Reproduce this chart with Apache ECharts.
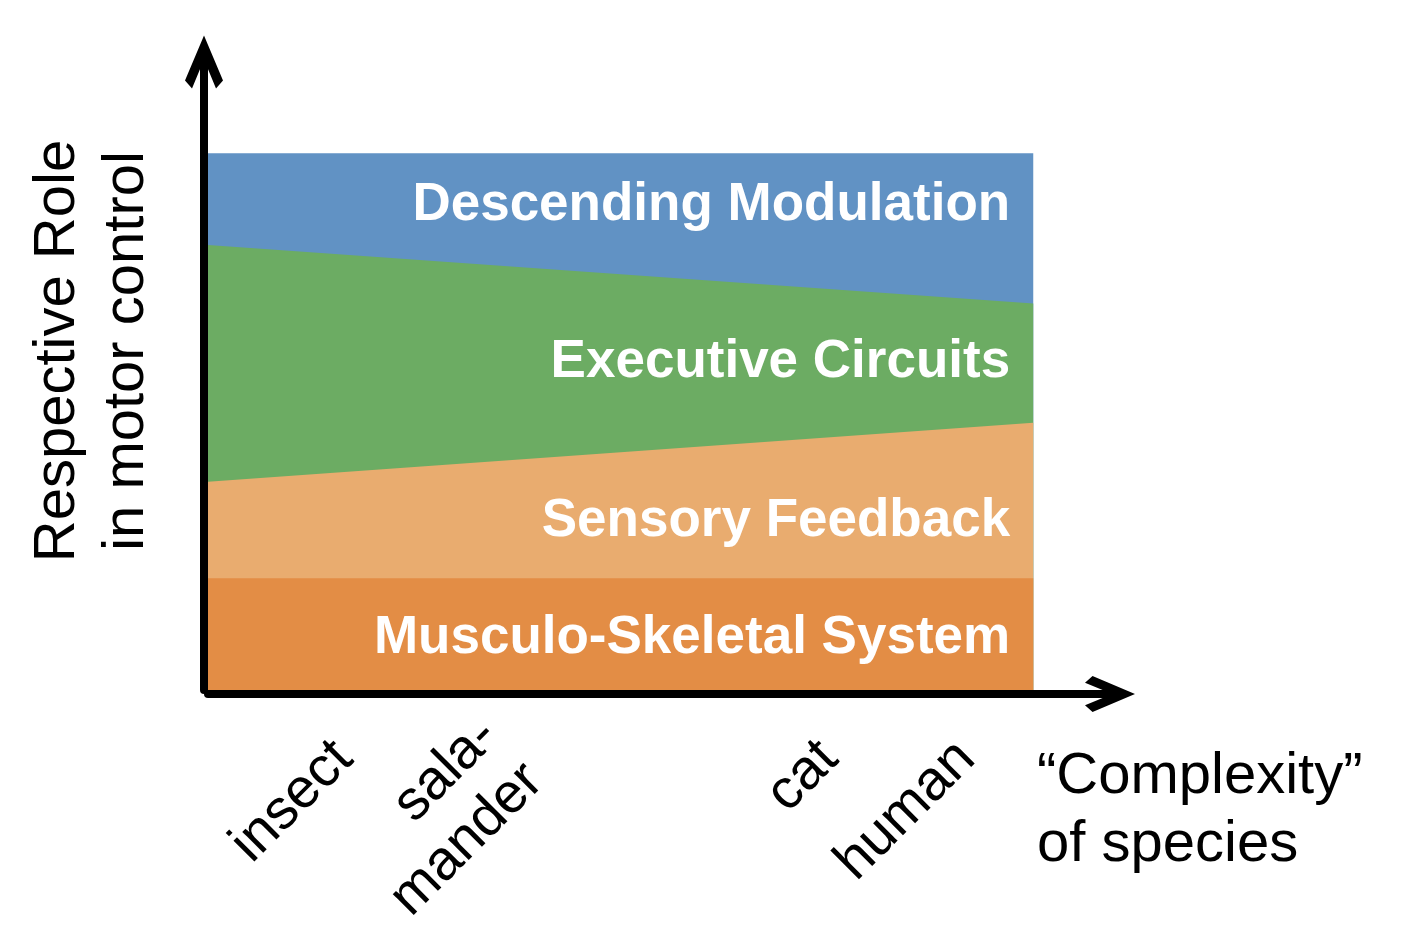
<!DOCTYPE html>
<html>
<head>
<meta charset="utf-8">
<script src="https://cdn.jsdelivr.net/npm/echarts@6/dist/echarts.min.js"></script>
<style>
html,body{margin:0;padding:0;background:#ffffff;}
#chart{width:1404px;height:945px;}
</style>
</head>
<body>
<div id="chart"></div>
<script>
// ---- data ----
const xPoints = [0, 100];
const musculoSkeletal = [20.8, 20.8];
const sensoryFeedback = [18.0, 29.0];
const executiveCircuits = [44.1, 22.2];
const descendingModulation = [17.1, 28.0];
const layerNames = ['Musculo-Skeletal System', 'Sensory Feedback', 'Executive Circuits', 'Descending Modulation'];
const layerLabelX = [97.2, 97.2, 97.2, 97.2];
const layerLabelY = [9.6, 31.5, 61.1, 90.3];
const speciesTicks = [16.5, 36.8, 75.3, 91.9];
const speciesLabels = ['insect', 'sala-\nmander', 'cat', 'human'];
const yAxisTitle = ['Respective Role', 'in motor control'];
const xAxisTitle = ['\u201CComplexity\u201D', 'of species'];

// ---- styling ----
const layerValues = [musculoSkeletal, sensoryFeedback, executiveCircuits, descendingModulation];
const layerColors = ['#E38D45', '#E9AC6F', '#6CAC63', '#6192C4'];
const FONT = '"Liberation Sans", Arial, Helvetica, sans-serif';
const arrowPath = 'path://M19,0 L38,45 L31,53 L19,24 L7,53 L0,45 Z';

// cumulative tops of each layer (layers painted top-down, each filled to the axis)
const cumulative = layerValues.map((vals, i) =>
  xPoints.map((x, j) => layerValues.slice(0, i + 1).reduce((s, arr) => s + arr[j], 0))
);

const chart = echarts.init(document.getElementById('chart'), null, {renderer: 'canvas'});

const areaSeries = layerNames.map((name, i) => ({
  name: name,
  type: 'line',
  symbol: 'none',
  silent: true,
  lineStyle: {width: 0, color: layerColors[i]},
  itemStyle: {color: layerColors[i]},
  areaStyle: {color: layerColors[i], opacity: 1, origin: 'start'},
  data: xPoints.map((x, j) => [x, cumulative[i][j]]),
  z: 2
})).reverse();

const labelSeries = {
  type: 'scatter',
  symbolSize: 0,
  silent: true,
  z: 10,
  itemStyle: {opacity: 1},
  data: layerNames.map((name, i) => ({name: name, value: [layerLabelX[i], layerLabelY[i]]})),
  label: {
    show: true,
    position: 'left',
    distance: 0,
    formatter: '{b}',
    color: '#ffffff',
    opacity: 1,
    fontSize: 53,
    fontWeight: 'bold',
    fontFamily: FONT
  }
};

const option = {
  animation: false,
  backgroundColor: '#ffffff',
  grid: {left: 208, right: 294, top: 62, bottom: 255, containLabel: false, outerBoundsMode: 'none'},
  xAxis: {
    type: 'value',
    min: 0,
    max: 109.3,
    offset: 4,
    z: 5,
    axisLine: {
      show: true,
      onZero: false,
      lineStyle: {color: '#000', width: 8, cap: 'round'},
      symbol: ['none', arrowPath],
      symbolSize: [36, 50]
    },
    axisTick: {show: false},
    splitLine: {show: false},
    axisLabel: {
      show: true,
      customValues: speciesTicks,
      formatter: function (v) {
        const k = speciesTicks.indexOf(v);
        return k >= 0 ? speciesLabels[k] : '';
      },
      rotate: 45,
      margin: 56,
      color: '#000',
      fontSize: 56,
      lineHeight: 64,
      fontFamily: FONT
    }
  },
  yAxis: {
    type: 'value',
    min: 0,
    max: 117,
    offset: 4,
    z: 5,
    axisLine: {
      show: true,
      onZero: false,
      lineStyle: {color: '#000', width: 8, cap: 'round'},
      symbol: ['none', arrowPath],
      symbolSize: [38, 53]
    },
    axisTick: {show: false},
    splitLine: {show: false},
    axisLabel: {show: false}
  },
  graphic: [
    {type: 'text', x: 58, y: 351, rotation: Math.PI / 2,
     style: {text: yAxisTitle[0], font: '58px ' + FONT, fill: '#000', align: 'center', verticalAlign: 'middle'}},
    {type: 'text', x: 127, y: 351, rotation: Math.PI / 2,
     style: {text: yAxisTitle[1], font: '58px ' + FONT, fill: '#000', align: 'center', verticalAlign: 'middle'}},
    {type: 'text', x: 1037, y: 777,
     style: {text: xAxisTitle[0], font: '58px ' + FONT, fill: '#000', align: 'left', verticalAlign: 'middle'}},
    {type: 'text', x: 1037, y: 845,
     style: {text: xAxisTitle[1], font: '58px ' + FONT, fill: '#000', align: 'left', verticalAlign: 'middle'}}
  ],
  series: areaSeries.concat([labelSeries])
};

chart.setOption(option);
</script>
</body>
</html>
